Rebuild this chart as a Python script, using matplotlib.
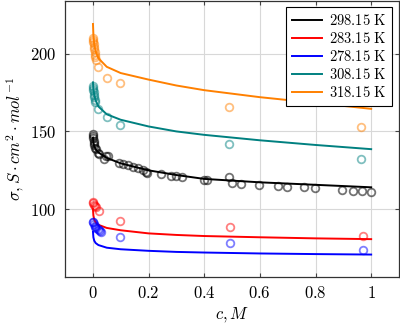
import numpy as np
import matplotlib
matplotlib.use("Agg")
import matplotlib.pyplot as plt

plt.rcParams['mathtext.fontset'] = 'cm'
plt.rcParams['font.family'] = 'serif'
plt.rcParams['font.serif'] = ['DejaVu Serif']

# Model curves
c_fit = [0.0005, 0.002, 0.005, 0.01, 0.02, 0.05, 0.1, 0.2, 0.3, 0.4, 0.6, 0.8, 1.0]
fit_298 = [146, 143, 140.5, 138.5, 136.5, 133, 129.5, 125, 122, 119.5, 117.3, 115.7, 114.1]
fit_283 = [100, 96, 93.5, 91.5, 90, 88, 86.5, 84.5, 83.5, 82.8, 82, 81.3, 80.8]
fit_278 = [85.5, 82, 79.8, 78.3, 77, 75.3, 74.3, 73.3, 72.6, 72.2, 71.6, 71.2, 70.9]
fit_308 = [181.5, 177, 173.5, 170, 166, 161, 157.5, 153.2, 150, 147.8, 144.3, 141.3, 138.6]
fit_318 = [219, 212, 206, 201.5, 197, 191.5, 187.5, 183.3, 179.5, 176.5, 172, 168.3, 164.5]

# Measured points
c_298 = [0.0005, 0.001, 0.002, 0.003, 0.004, 0.005, 0.008, 0.011, 0.02, 0.023, 0.041, 0.047,
         0.053, 0.095, 0.107, 0.125, 0.143, 0.161, 0.179, 0.191, 0.195, 0.245, 0.28, 0.30,
         0.32, 0.40, 0.41, 0.49, 0.50, 0.532, 0.598, 0.664, 0.697, 0.759, 0.797, 0.897,
         0.933, 0.966, 0.999]
s_298 = [148.5, 147, 145.5, 144, 142.5, 141, 139.5, 139, 136, 135.5, 132, 134.5,
         134, 129.5, 129, 128.4, 127.3, 126.3, 125.2, 124.1, 123.5, 122.4, 121.5, 121.2,
         121, 119, 118.8, 120.7, 116.7, 116.5, 115.6, 115, 114.5, 114.1, 113.6, 112.4,
         112, 111.7, 111.3]
c_283 = [0.0005, 0.002, 0.005, 0.008, 0.011, 0.021, 0.099, 0.493, 0.971]
s_283 = [104.9, 104, 103, 102, 101.5, 99.1, 92.7, 88.5, 82.9]
c_278 = [0.0005, 0.002, 0.004, 0.006, 0.009, 0.013, 0.017, 0.022, 0.026, 0.03, 0.099, 0.493, 0.972]
s_278 = [92, 91.5, 90.5, 89.5, 88.8, 88, 87.5, 86.8, 86.3, 85.6, 82, 78.2, 73.9]
c_308 = [0.0005, 0.001, 0.002, 0.003, 0.004, 0.005, 0.007, 0.009, 0.017, 0.05, 0.099, 0.49, 0.965]
s_308 = [179, 178, 176.5, 175, 173.5, 172, 170.5, 169, 164.7, 159, 154, 141.9, 132]
c_318 = [0.0005, 0.001, 0.002, 0.003, 0.004, 0.005, 0.006, 0.007, 0.009, 0.011, 0.02, 0.05,
         0.099, 0.488, 0.963]
s_318 = [210, 209, 207.5, 206, 204.5, 203, 201, 199, 197.5, 195.7, 191.4, 184, 181, 165.8, 153]

series = [
    ("298.15 K", "black", fit_298, c_298, s_298, 0.55),
    ("283.15 K", "#ff0000", fit_283, c_283, s_283, 0.5),
    ("278.15 K", "#0000ff", fit_278, c_278, s_278, 0.5),
    ("308.15 K", "#008080", fit_308, c_308, s_308, 0.5),
    ("318.15 K", "#ff8000", fit_318, c_318, s_318, 0.5),
]

fig = plt.figure(figsize=(4, 3.27), dpi=100)
ax = fig.add_axes([0.1625, 0.153, 0.835, 0.845])

for label, col, fit, cx, sy, a in series:
    ax.plot(c_fit, fit, color=col, lw=1.4, label=label, zorder=3)
for label, col, fit, cx, sy, a in series:
    ax.plot(cx, sy, ls='none', marker='o', ms=5.5, mfc='none', mec=col, mew=1.3,
            alpha=a, zorder=4)

ax.set_xlim(-0.1, 1.1)
ax.set_ylim(56.5, 234)
xt = [0, 0.2, 0.4, 0.6, 0.8, 1]
ax.set_xticks(xt)
ax.set_xticklabels([r"$%g$" % v for v in xt])
yt = [100, 150, 200]
ax.set_yticks(yt)
ax.set_yticklabels([r"$%d$" % v for v in yt])
ax.tick_params(direction='in', top=True, right=True, length=3, labelsize=12,
               color='#444444', pad=6)
ax.grid(True, color='#d8d8d8', lw=0.8)
ax.set_axisbelow(True)
for s in ax.spines.values():
    s.set_color('#333333')
    s.set_linewidth(0.9)

ax.set_xlabel(r"$c, M$", fontsize=12, labelpad=2)
ax.set_ylabel(r"$\sigma, S\cdot cm^2\cdot mol^{-1}$", fontsize=12, labelpad=3)

leg = ax.legend(loc='upper right', fancybox=False, framealpha=1,
                edgecolor='black', handlelength=2.1, borderaxespad=0.45,
                labelspacing=0.2, handletextpad=0.45,
                prop={'family': 'serif', 'size': 10.5})
leg.get_frame().set_linewidth(0.8)
for t in leg.get_texts():
    t.set_text(r"$\mathrm{%s}$" % t.get_text().replace(" ", r"\ "))

fig.savefig("out.png", dpi=100)
